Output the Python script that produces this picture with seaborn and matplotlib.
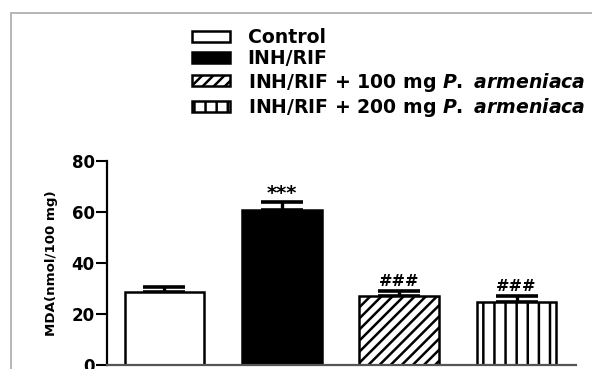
import numpy as np
import pandas as pd
import matplotlib
matplotlib.use("Agg")
import matplotlib.pyplot as plt
from matplotlib.patches import Patch
from matplotlib.lines import Line2D
import seaborn as sns

# --- dati ---
groups = ["Control", "INH/RIF", "INH/RIF + 100 mg", "INH/RIF + 200 mg"]
mda_mean = [28.7, 60.8, 27.1, 24.8]
mda_sem = [2.0, 3.2, 2.0, 2.4]
labels = ["Control", "INH/RIF",
          r"INH/RIF + 100 mg $\it{P.}$ $\it{armeniaca}$",
          r"INH/RIF + 200 mg $\it{P.}$ $\it{armeniaca}$"]
signif = ["", "***", "###", "###"]
fill_colors = ["white", "black", "white", "white"]
hatches = ["", "", "//////", "|||"]
yticks = [0, 20, 40, 60, 80]

sns.set_style("white")
plt.rcParams["font.family"] = ["DejaVu Sans"]
plt.rcParams["font.weight"] = "bold"
plt.rcParams["text.color"] = "black"
plt.rcParams["axes.labelcolor"] = "black"
plt.rcParams["ytick.color"] = "black"
plt.rcParams["mathtext.fontset"] = "custom"
plt.rcParams["mathtext.it"] = "DejaVu Sans:italic:bold"
plt.rcParams["mathtext.rm"] = "DejaVu Sans:bold"
plt.rcParams["hatch.linewidth"] = 0.9
plt.rcParams["hatch.color"] = "black"

df = pd.DataFrame({"group": groups, "mda": mda_mean})

fig = plt.figure(figsize=(2.96, 1.845), dpi=200)
ax = fig.add_axes([107 / 592, 4 / 369, 469 / 592, 204 / 369])

sns.barplot(data=df, x="group", y="mda", hue="group", palette=fill_colors,
            edgecolor="black", linewidth=0.9, width=0.68, errorbar=None,
            legend=False, ax=ax, zorder=2)
for patch, h in zip(ax.patches, hatches):
    patch.set_hatch(h)

xpos = np.arange(len(groups))
ax.errorbar(xpos, mda_mean, yerr=[np.zeros(len(groups)), mda_sem], fmt="none",
            ecolor="black", elinewidth=1.2, capsize=7.5, capthick=1.3, zorder=1)

for x, m, s, t in zip(xpos, mda_mean, mda_sem, signif):
    if t == "***":
        ax.text(x, m + s + 3.2, t, ha="center", va="center", fontsize=7)
    elif t:
        ax.text(x, m + s + 3.6, t, ha="center", va="center", fontsize=5.8)

ax.set_xlim(-0.49, 3.507)
ax.set_ylim(0, 80)
ax.set_yticks(yticks)
ax.set_xticks([])
ax.set_xlabel("")
ax.set_ylabel("MDA(nmol/100 mg)", fontsize=4.8, fontweight="bold", labelpad=5)
ax.tick_params(axis="y", length=4, width=0.75, pad=0.4, labelsize=6,
               left=True, color="black")
for side in ["top", "right"]:
    ax.spines[side].set_visible(False)
ax.spines["left"].set_linewidth(0.8)
ax.spines["left"].set_color("black")
ax.spines["bottom"].set_linewidth(0.8)
ax.spines["bottom"].set_color("#555555")

# legenda
handles = [Patch(facecolor=c, edgecolor="black", hatch=h, linewidth=0.9)
           for c, h in zip(fill_colors, hatches)]
fig.legend(handles, labels, loc="upper left",
           bbox_to_anchor=(192 / 592, 1 - 28 / 369), frameon=False,
           fontsize=6.8, borderpad=0, borderaxespad=0, handlelength=2.0,
           handleheight=0.53, handletextpad=0.95, labelspacing=0.12)

# bordo grigio del ritaglio
fig.add_artist(Line2D([11 / 592, 1], [1 - 13 / 369, 1 - 13 / 369],
                      color="#b5b5b5", lw=0.7, transform=fig.transFigure))
fig.add_artist(Line2D([11 / 592, 11 / 592], [0, 1 - 13 / 369],
                      color="#b5b5b5", lw=0.7, transform=fig.transFigure))

fig.savefig("out.png", dpi=200)
